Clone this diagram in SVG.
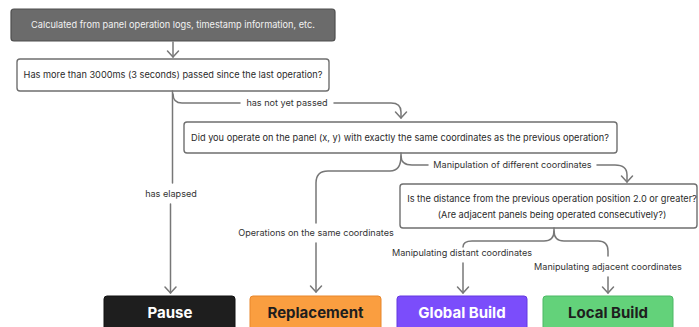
<svg xmlns="http://www.w3.org/2000/svg" width="699" height="327" viewBox="0 0 699 327">
  <style>
    text { font-family: Inter, "Noto Sans", "Liberation Sans", sans-serif; }
    .q { fill: #ffffff; stroke: #6f6f6f; stroke-width: 1.4; }
    .qt { font-size: 9.2px; fill: #2a2a2a; text-anchor: middle; }
    .lbl { font-size: 9.1px; fill: #333333; text-anchor: middle; }
    .line { fill: none; stroke: #777777; stroke-width: 1.5; stroke-linecap: round; stroke-linejoin: round; }
    .res { font-size: 15px; font-weight: 700; text-anchor: middle; }
  </style>
  <defs>
    <marker id="chev" markerUnits="userSpaceOnUse" markerWidth="14" markerHeight="14" viewBox="-8 -7 9 14" refX="0" refY="0" orient="auto">
      <path d="M-6,-5.5 L0,0 L-6,5.5" fill="none" stroke="#777777" stroke-width="1.5" stroke-linecap="round" stroke-linejoin="round"/>
    </marker>
  </defs>

  <!-- source data -->
  <g id="source">
    <rect x="11" y="9" width="324" height="32" rx="3" fill="#6b6b6b" stroke="#4e4e4e" stroke-width="1.2"/>
    <text x="173" y="28.3" font-size="9.2px" fill="#f2f2f2" text-anchor="middle">Calculated from panel operation logs, timestamp information, etc.</text>
  </g>

  <!-- decision: elapsed time -->
  <g id="q-time">
    <rect class="q" x="17" y="59" width="312" height="32" rx="3"/>
    <text class="qt" x="173" y="78.3">Has more than 3000ms (3 seconds) passed since the last operation?</text>
  </g>

  <!-- decision: same coordinates -->
  <g id="q-same">
    <rect class="q" x="184" y="122" width="433" height="31" rx="3"/>
    <text class="qt" x="400" y="140.8">Did you operate on the panel (x, y) with exactly the same coordinates as the previous operation?</text>
  </g>

  <!-- decision: distance -->
  <g id="q-distance">
    <rect class="q" x="400" y="184" width="297" height="44" rx="3"/>
    <text class="qt" x="552" y="202">Is the distance from the previous operation position 2.0 or greater?</text>
    <text class="qt" x="552" y="218">(Are adjacent panels being operated consecutively?)</text>
  </g>

  <!-- outcomes -->
  <g id="pause">
    <rect x="104" y="296" width="131" height="40" rx="3" fill="#1e1e1e" stroke="#111111"/>
    <text class="res" x="170" y="317.5" fill="#ffffff">Pause</text>
  </g>
  <g id="replacement">
    <rect x="250" y="296" width="131" height="40" rx="3" fill="#fa9e40" stroke="#e8862a"/>
    <text class="res" x="315.5" y="317.5" fill="#1e1e1e">Replacement</text>
  </g>
  <g id="global-build">
    <rect x="397" y="296" width="130" height="40" rx="3" fill="#7b4dfb" stroke="#6538e0"/>
    <text class="res" x="462" y="317.5" fill="#ffffff">Global Build</text>
  </g>
  <g id="local-build">
    <rect x="543" y="296" width="130" height="40" rx="3" fill="#63d27a" stroke="#4cb864"/>
    <text class="res" x="608" y="317.5" fill="#1e1e1e">Local Build</text>
  </g>

  <!-- connectors -->
  <g id="connectors">
    <path class="line" d="M173,42 V57" marker-end="url(#chev)"/>

    <!-- has elapsed -->
    <path class="line" d="M172.5,91 V183"/>
    <path class="line" d="M170.5,204 V293" marker-end="url(#chev)"/>
    <text class="lbl" x="171" y="197.3">has elapsed</text>

    <!-- has not yet passed -->
    <path class="line" d="M173,94 Q173,103 182,103 H240"/>
    <path class="line" d="M334,103 H391 Q401,103 401,112 V118" marker-end="url(#chev)"/>
    <text class="lbl" x="287" y="106.3">has not yet passed</text>

    <!-- same / different coordinates -->
    <path class="line" d="M401,153 V156 Q401,171 390,171 H328 Q316,171 316,183 V223"/>
    <path class="line" d="M316,243 V292" marker-end="url(#chev)"/>
    <text class="lbl" x="316" y="236.3">Operations on the same coordinates</text>

    <path class="line" d="M401,156 Q401,165 412,165 H428"/>
    <path class="line" d="M597,165 H615 Q627,165 627,175 V182" marker-end="url(#chev)"/>
    <text class="lbl" x="512.5" y="168.3">Manipulation of different coordinates</text>

    <!-- distant / adjacent -->
    <path class="line" d="M554,228 V231 Q554,241 544,241 H472 Q463,241 463,247"/>
    <path class="line" d="M463,263 V293" marker-end="url(#chev)"/>
    <text class="lbl" x="462" y="256.3">Manipulating distant coordinates</text>

    <path class="line" d="M554,231 Q554,241 564,241 H598 Q608,241 608,251 V256"/>
    <path class="line" d="M608,277 V293" marker-end="url(#chev)"/>
    <text class="lbl" x="608" y="270.3">Manipulating adjacent coordinates</text>
  </g>
</svg>
